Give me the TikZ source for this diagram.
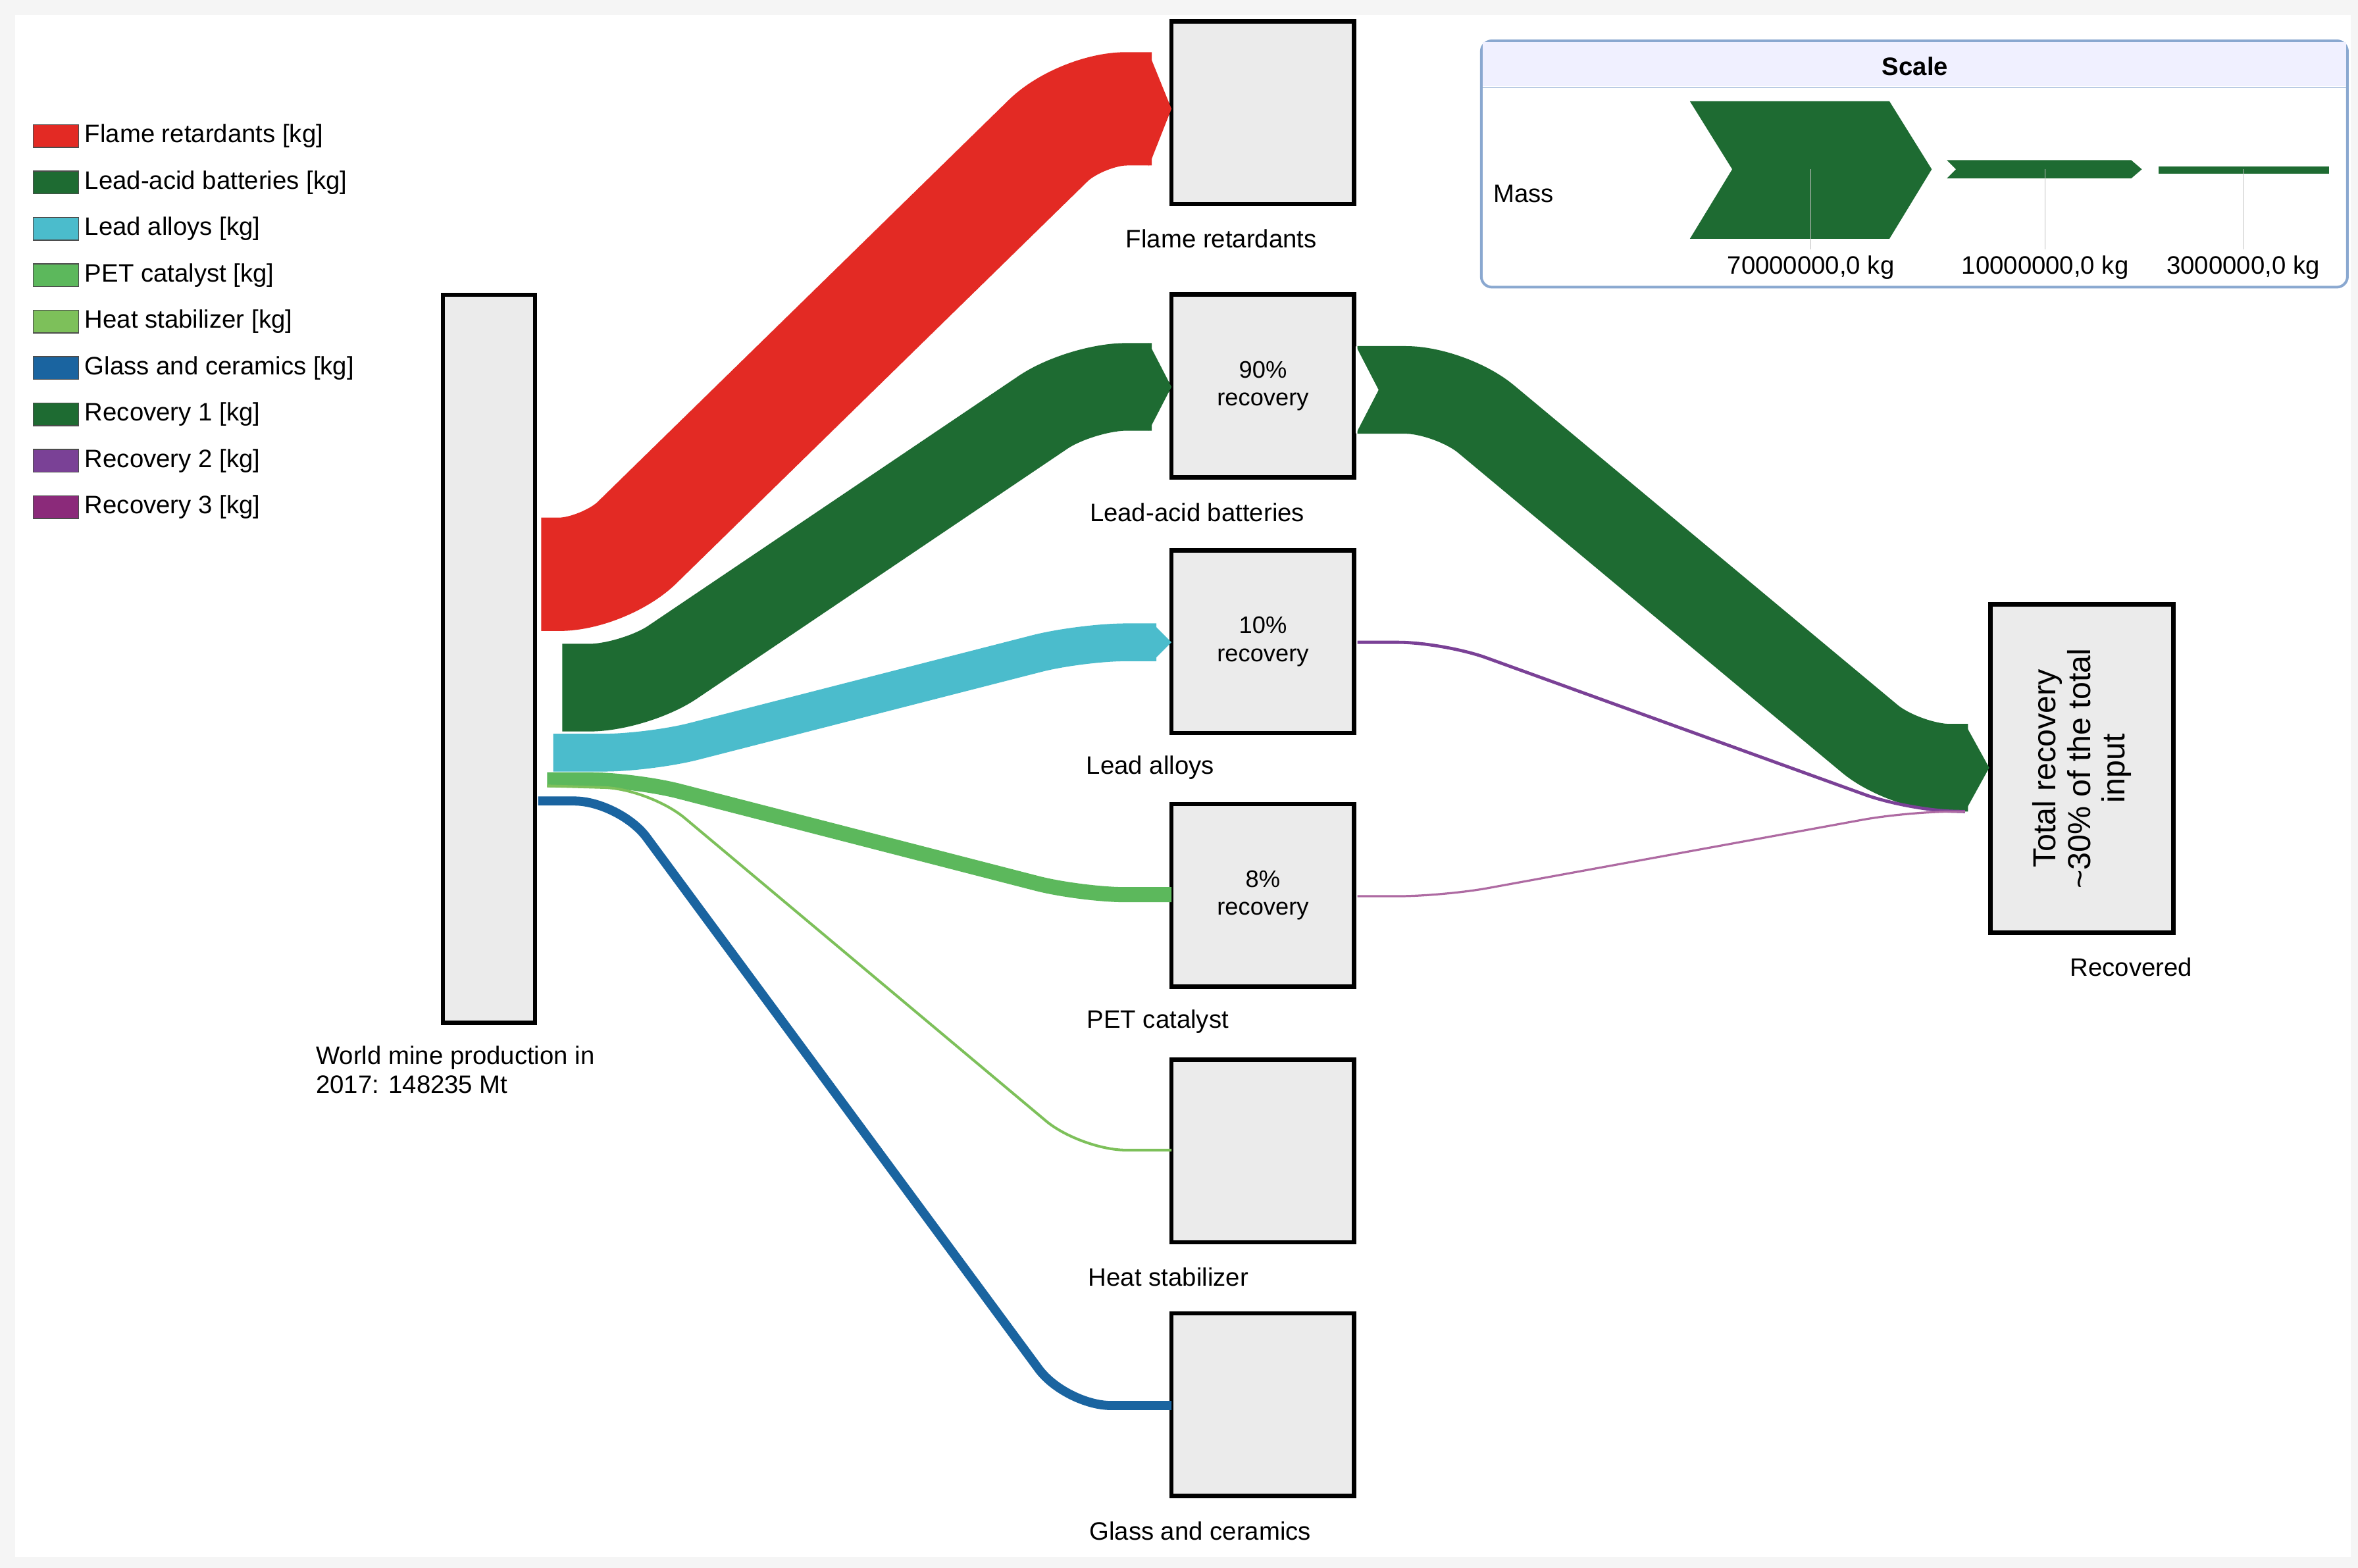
\documentclass[tikz,border=0pt]{standalone}
\usepackage{fontspec}
\setmainfont{Liberation Sans}
\definecolor{redflow}{HTML}{E32A24}
\definecolor{darkgreen}{HTML}{1E6B32}
\definecolor{cyanflow}{HTML}{4BBCCC}
\definecolor{petgreen}{HTML}{5CB85C}
\definecolor{heatgreen}{HTML}{7DC05A}
\definecolor{glassblue}{HTML}{1A64A0}
\definecolor{rectwo}{HTML}{7A4196}
\definecolor{recthree}{HTML}{8B2A7A}
\definecolor{boxgrey}{HTML}{EBEBEB}
\definecolor{scaleblue}{HTML}{8AA8D0}
\tikzset{
  box/.style={draw=black,line width=1.7pt,fill=boxgrey,minimum width=2.42cm,minimum height=2.42cm,inner sep=0pt,align=center,font=\fontsize{9}{10.5}\selectfont},
  lbl/.style={font=\fontsize{9.5}{11}\selectfont,inner sep=1pt},
  flow/.style={rounded corners=0.6cm,line cap=butt},
  swatch/.style={draw=black!70,minimum width=0.6cm,minimum height=0.3cm,inner sep=0pt}
}
\begin{document}
\begin{tikzpicture}[x=0.02cm,y=-0.02cm]
\useasboundingbox[fill=black!4] (0,0) rectangle (1560,1037.5);
\fill[white] (10,10) rectangle (1555,1030);

% Legende
\foreach \c/\t [count=\i] in {redflow/Flame retardants [kg],darkgreen/Lead-acid batteries [kg],cyanflow/Lead alloys [kg],petgreen/PET catalyst [kg],heatgreen/Heat stabilizer [kg],glassblue/Glass and ceramics [kg],darkgreen/Recovery 1 [kg],rectwo/Recovery 2 [kg],recthree/Recovery 3 [kg]}
{
  \node[swatch,fill=\c] (sw\i) at (37,{90+30.7*(\i-1)}) {};
  \node[lbl,anchor=west] (leg\i) at (54,{90+30.7*(\i-1)}) {\t};
}

% Knoten
\node[box,minimum width=1.22cm,minimum height=9.64cm] (mine) at (323.5,436) {};
\node[box] (flame) at (835.5,74.5) {};
\node[box] (lead) at (835.5,255.5) {90\%\\recovery};
\node[box] (alloys) at (835.5,424.5) {10\%\\recovery};
\node[box] (pet) at (835.5,592.5) {8\%\\recovery};
\node[box] (heat) at (835.5,761.5) {};
\node[box] (glass) at (835.5,929.5) {};
\node[box,minimum width=2.42cm,minimum height=4.34cm] (recov) at (1377.5,508.5) {};
\node[rotate=90,align=center,font=\fontsize{12}{13}\selectfont] (recovtext) at (recov.center) {Total recovery\\\textasciitilde30\% of the total\\input};

% Bezeichnungen
\node[lbl,align=left,anchor=north west] (mineL) at (207,690) {World mine production in\\2017: 148235 Mt};
\node[lbl] (flameL) at (808,158) {Flame retardants};
\node[lbl] (leadL) at (792,339) {Lead-acid batteries};
\node[lbl] (alloysL) at (761,508) {Lead alloys};
\node[lbl] (petL) at (766,676) {PET catalyst};
\node[lbl] (heatL) at (773,845) {Heat stabilizer};
\node[lbl] (glassL) at (794,1013) {Glass and ceramics};
\node[lbl] (recovL) at (1410,640) {Recovered};

% Stroeme
\draw[flow,redflow,line width=1.5cm] (358,380) -- (400,380) -- (715,72) -- (762,72);
\fill[redflow] (760,35) -- (775,72) -- (760,110) -- cycle;
\draw[flow,darkgreen,line width=1.16cm] (372,455) -- (420,455) -- (715,256) -- (762,256);
\fill[darkgreen] (760,227) -- (775,256) -- (760,285) -- cycle;
\draw[flow,cyanflow,line width=0.5cm] (366,498) -- (430,498) -- (715,425) -- (765,425);
\fill[cyanflow] (763,413) -- (775,425) -- (763,437) -- cycle;
\draw[flow,petgreen,line width=0.2cm] (362,516) -- (420,516) -- (715,592) -- (775,592);
\draw[flow,heatgreen,line width=1pt] (362,520) -- (430,522) -- (715,761) -- (775,761);
\draw[flow,glassblue,line width=0.12cm] (356,530) -- (410,530) -- (705,930) -- (775,930);
\draw[flow,darkgreen,line width=1.16cm] (898,258) -- (960,258) -- (1260,508) -- (1302,508);
\fill[white] (897,229) -- (912,258) -- (897,287) -- cycle;
\fill[darkgreen] (1300,479) -- (1316,508) -- (1300,537) -- cycle;
\draw[flow,rectwo,line width=1.2pt] (898,425) -- (955,425) -- (1262,536) -- (1300,537);
\draw[flow,recthree!70,line width=0.8pt] (898,593) -- (955,593) -- (1262,537) -- (1300,537);

% Massstab
\draw[scaleblue,line width=1pt,fill=white,rounded corners=4pt] (980,27) rectangle (1553,190);
\fill[blue!6] (981,28) rectangle (1552,57);
\draw[scaleblue!60] (981,58) -- (1552,58);
\node[font=\fontsize{9.5}{11}\selectfont\bfseries] (scaleT) at (1267,44) {Scale};
\node[lbl] (massL) at (1008,128) {Mass};
\fill[darkgreen] (1118,67) -- (1250,67) -- (1278,112) -- (1250,158) -- (1118,158) -- (1146,112) -- cycle;
\fill[darkgreen] (1288,106) -- (1410,106) -- (1417,112) -- (1410,118) -- (1288,118) -- (1294,112) -- cycle;
\fill[darkgreen] (1428,110) rectangle (1541,115);
\draw[black!25] (1198,112) -- (1198,165) (1353,112) -- (1353,165) (1484,112) -- (1484,165);
\node[lbl] (s1) at (1198,177) {70000000,0 kg};
\node[lbl] (s2) at (1353,177) {10000000,0 kg};
\node[lbl] (s3) at (1484,177) {3000000,0 kg};
\end{tikzpicture}
\end{document}
